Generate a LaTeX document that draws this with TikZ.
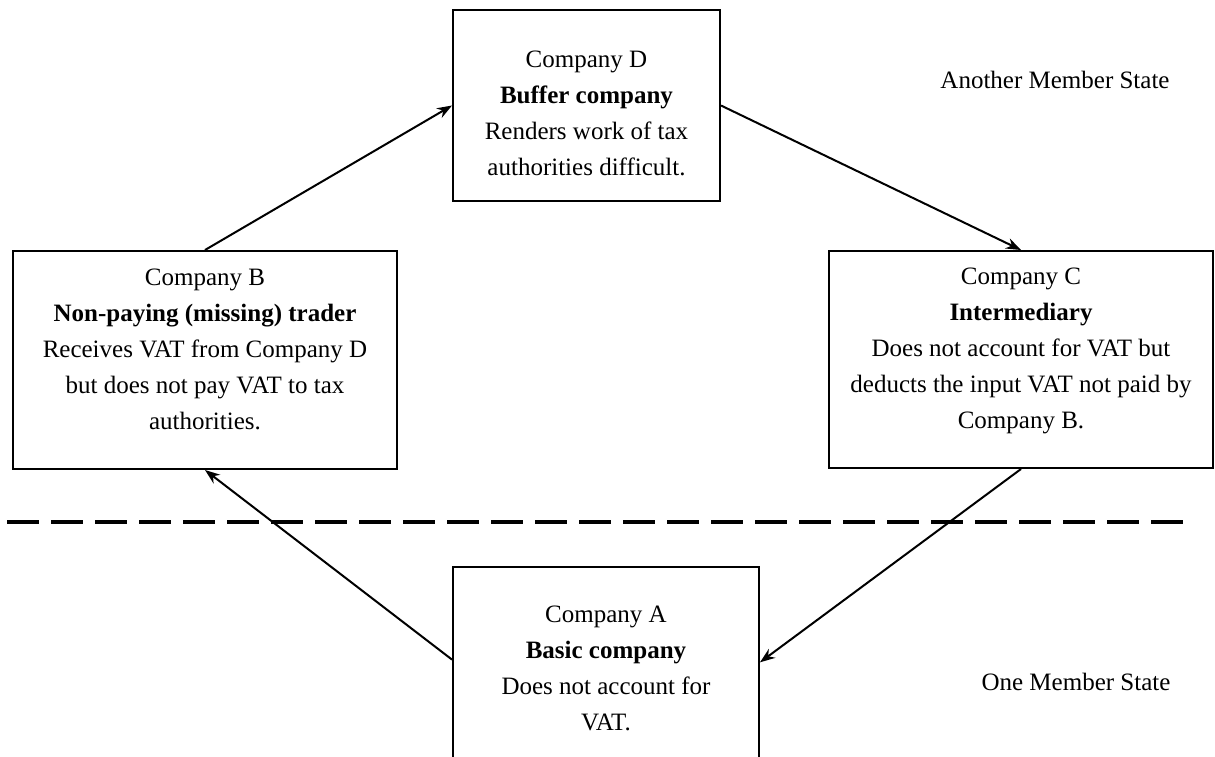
\documentclass[tikz,border=0pt]{standalone}
\usepackage{fontspec}
\setmainfont{Liberation Serif}
\usetikzlibrary{arrows.meta, calc, positioning}

\begin{document}
\begin{tikzpicture}[x=1pt,y=-1pt,>={Stealth[length=15pt,width=11pt]},
                    firm node/.style={rectangle,draw,line width=2pt,inner sep=0pt},
                    firm text/.style={align=center,inner sep=0pt,font=\fontsize{25}{36}\selectfont},
                    state label/.style={anchor=base,font=\fontsize{25}{36}\selectfont}]

  \useasboundingbox (0,0) rectangle (1215,756);

  \node[firm node,minimum width=267pt,minimum height=191pt] (D) at (586.5,105.5) {};
  \node[firm node,minimum width=384pt,minimum height=218pt] (B) at (205,360) {};
  \node[firm node,minimum width=384pt,minimum height=217pt] (C) at (1021,359.5) {};
  \node[firm node,minimum width=306pt,minimum height=223pt] (A) at (606,678.5) {};

  \node[firm text] (D text) at ($(D)+(0,8)$)
    {Company D\\ \textbf{Buffer company}\\ Renders work of tax\\ authorities difficult.};
  \node[firm text] (B text) at ($(B)+(0,-11)$)
    {Company B\\ \textbf{Non-paying (missing) trader}\\ Receives VAT from Company D\\
     but does not pay VAT to tax\\ authorities.};
  \node[firm text] (C text) at ($(C)+(0,-8.5)$)
    {Company C\\ \textbf{Intermediary}\\ Does not account for VAT but\\
     deducts the input VAT not paid by\\ Company B.};
  \node[firm text] (A text) at ($(A)+(0,-10)$)
    {Company A\\ \textbf{Basic company}\\ Does not account for\\ VAT.};

  \node[state label] (other) at (1055,88) {Another Member State};
  \node[state label] (one) at (1076,690) {One Member State};

  % border between the two states
  \coordinate (sep west) at (7,522);
  \coordinate (sep east) at (1184,522);
  \draw[line width=4pt,dash pattern=on 32pt off 12pt] (sep west) -- (sep east);

  \path[->,line width=2pt]
    (B.north) edge (D.west)
    (D.east) edge (C.north)
    (C.south) edge (A.6.5)
    (A.173.5) edge (B.south);

\end{tikzpicture}
\end{document}
